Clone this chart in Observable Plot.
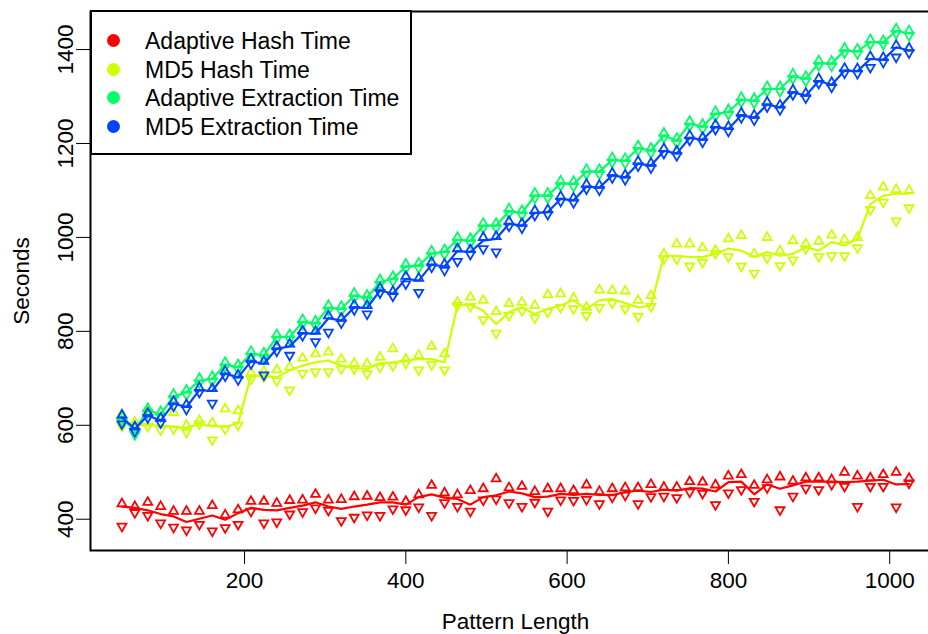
<!DOCTYPE html>
<html>
<head>
<meta charset="utf-8">
<script src="https://cdn.jsdelivr.net/npm/d3@7"></script>
<script src="https://cdn.jsdelivr.net/npm/@observablehq/plot@0.6"></script>
<style>
  html, body { margin: 0; padding: 0; background: #fff; overflow: hidden; }
  #wrap { position: relative; width: 928px; height: 634px; overflow: hidden; }
  #chart { width: 940px; }
  #chart svg { max-width: none !important; width: 940px !important; height: 634px !important; display: block; }
  #legend {
    position: absolute; left: 90px; top: 10px; width: 318px; height: 141px;
    border: 2px solid #000; background: #fff; box-sizing: content-box;
    font-family: "Liberation Sans", Arial, Helvetica, sans-serif; font-size: 23px; color: #000;
  }
  #legend .row { position: absolute; left: 0; height: 28px; line-height: 28px; white-space: nowrap; }
  #legend .sw { position: absolute; left: 15px; top: 7px; width: 13px; height: 13px; border-radius: 50%; }
  #legend .lb { position: absolute; left: 53px; top: 0; }
</style>
</head>
<body>
<div id="wrap"><div id="chart"></div><div id="legend"></div></div>
<script>
// Pattern lengths (x)
const patternLength = [48, 64, 80, 96, 112, 128, 144, 160, 176, 192, 208, 224, 240, 256, 272, 288, 304, 320, 336, 352, 368, 384, 400, 416, 432, 448, 464, 480, 496, 512, 528, 544, 560, 576, 592, 608, 624, 640, 656, 672, 688, 704, 720, 736, 752, 768, 784, 800, 816, 832, 848, 864, 880, 896, 912, 928, 944, 960, 976, 992, 1008, 1024];

const seriesNames = ["Adaptive Hash Time", "MD5 Hash Time", "Adaptive Extraction Time", "MD5 Extraction Time"];
const seriesColors = ["#FF0000", "#CCFF00", "#00FF66", "#0044FF"];

// Adaptive Hash Time: max (up triangle), min (down triangle), mean (line)
const adaptiveHashHi = [433,427,436,427,417,417,417,429,409,420, 438,438,434,440,441,453,441,442,448,449, 446,447,438,452,472,456,452,461,465,486, 467,470,459,465,465,461,473,459,465,467, 467,474,468,468,480,479,473,492,495,472, 484,490,481,488,488,484,500,492,488,495, 500,487];
const adaptiveHashLo = [385,414,408,392,383,377,389,375,382,389, 417,392,394,411,416,424,419,397,404,409, 408,422,420,426,408,435,427,417,441,443, 435,427,436,417,441,440,442,433,447,451, 433,448,449,446,458,455,431,456,463,438, 467,420,449,466,463,474,470,427,470,470, 426,477];
const adaptiveHashMean = [427,424,419,411,406,394,401,408,399,413, 424,420,419,424,429,436,427,422,427,431, 436,436,431,447,453,446,443,431,447,451, 459,455,447,448,454,452,454,452,451,458, 461,458,463,461,466,465,459,479,480,453, 474,465,472,480,480,480,479,480,482,484, 474,475];

// MD5 Hash Time
const md5HashHi = [612,607,630,615,627,600,610,605,635,631, 712,715,718,724,743,752,756,741,732, 731,745,763,741,749,768,752,862,873,866,842,859,862,855,878,880,871,851,888,887,886,866,876, 965,986,986,978,972,997,1004,965,1000,971,993,986,992,1005,995,1000,1089,1107,1102,1100];
const md5HashLo = [598,598,598,590,592,585,603,569,592,600, 698,703,695,675,711,714,714,720,720, 710,724,727,732,718,729,718,855,853,825,796,834,844,829,841,851,848,834,851,860,848,832,853, 954,954,939,947,966,959,939,924,956,940,952,976,959,961,961,978,1059,1075,1035,1063];
const md5HashMean = [610,601,600,600,596,595,602,598,597,604, 706,705,702,717,727,734,738,727,722, 720,732,734,738,741,741,734,855,857,844,815,841,851,837,848,855,866,848,866,869,860,851,855, 961,961,958,958,965,976,972,958,969,961,965,979,972,990,983,997,1071,1089,1093,1093];

// Adaptive Extraction Time
const adaptiveExtHi = [619,595,636,629,666,675,700,704,734,729, 757,754,793,793,825,822,855,853,881,877, 910,917,943,945,971,974,1000,998,1030,1030, 1061,1057,1094,1094,1120,1119,1145,1145,1170,1168, 1195,1190,1222,1211,1247,1241,1268,1272,1298,1296, 1321,1321,1348,1343,1376,1375,1403,1401,1421,1419, 1444,1440];
const adaptiveExtLo = [609,580,626,619,656,665,690,694,724,719, 747,744,783,783,815,812,845,843,871,867, 900,907,933,935,961,964,990,988,1020,1020, 1051,1047,1084,1084,1110,1109,1135,1135,1160,1158, 1185,1180,1212,1201,1237,1231,1258,1262,1288,1286, 1311,1311,1338,1333,1366,1365,1393,1391,1411,1411, 1434,1430];
const adaptiveExtMean = [614,590,631,624,661,670,695,699,729,724, 752,749,788,788,820,817,850,848,876,872, 905,912,938,940,966,969,995,993,1025,1025, 1056,1052,1089,1089,1115,1114,1140,1140,1165,1163, 1190,1185,1217,1206,1242,1236,1263,1267,1293,1291, 1316,1316,1343,1338,1371,1370,1398,1396,1416,1416, 1439,1435];

// MD5 Extraction Time
const md5ExtHi = [622,597,626,615,651,644,680,678,715,707, 741,736,768,773,801,800,833,828,856,855, 892,885,917,913,947,943,976,974,1000,1002, 1034,1030,1057,1059,1087,1084,1113,1111,1137,1133, 1162,1158,1189,1184,1217,1213,1240,1236,1265,1260, 1288,1282,1314,1307,1338,1330,1360,1359,1385,1383, 1409,1403];
const md5ExtLo = [603,587,616,605,641,634,670,647,705,697, 731,707,758,749,791,778,798,818,846,837, 882,875,901,883,937,930,949,964,976,969, 1024,1020,1047,1049,1077,1074,1103,1101,1127,1123, 1152,1148,1179,1174,1207,1203,1230,1226,1255,1250, 1278,1272,1304,1297,1328,1320,1350,1349,1362,1373, 1384,1393];
const md5ExtMean = [617,592,621,610,646,639,675,673,710,702, 736,731,763,768,796,795,828,823,851,850, 887,880,912,908,942,938,971,969,993,997, 1029,1025,1052,1054,1082,1079,1108,1106,1132,1128, 1157,1153,1184,1179,1212,1208,1235,1231,1260,1255, 1283,1277,1309,1302,1333,1325,1355,1354,1380,1378, 1405,1398];

const xTicks = [200, 400, 600, 800, 1000];
const yTicks = [400, 600, 800, 1000, 1200, 1400];

const seriesValues = [
  [adaptiveHashHi, adaptiveHashLo, adaptiveHashMean],
  [md5HashHi, md5HashLo, md5HashMean],
  [adaptiveExtHi, adaptiveExtLo, adaptiveExtMean],
  [md5ExtHi, md5ExtLo, md5ExtMean]
];

const tables = seriesValues.map(([hi, lo, mean], s) =>
  patternLength.map((x, i) => ({x, hi: hi[i], lo: lo[i], mean: mean[i], series: seriesNames[s]}))
);

const font = "'Liberation Sans', Arial, Helvetica, sans-serif";

const marks = [];
tables.forEach((t, s) => {
  const c = seriesColors[s];
  marks.push(Plot.dot(t, {x: "x", y: "hi", symbol: "triangle", r: 3.3, fill: "none", stroke: c, strokeWidth: 1.8}));
  marks.push(Plot.dot(t, {x: "x", y: "lo", symbol: "triangle", r: 3.3, rotate: 180, fill: "none", stroke: c, strokeWidth: 1.8}));
  marks.push(Plot.line(t, {x: "x", y: "mean", stroke: c, strokeWidth: 2.2}));
});

const chart = Plot.plot({
  width: 940,
  height: 634,
  marginLeft: 90,
  marginRight: 0,
  marginTop: 11,
  marginBottom: 84,
  style: {fontFamily: font, fontSize: "22.5px", color: "#000", background: "#fff", maxWidth: "none"},
  x: {domain: [9, 1063]},
  y: {domain: [333.4, 1481]},
  marks: [
    ...marks,
    Plot.frame({stroke: "#000", strokeWidth: 2}),
    Plot.axisX({ticks: xTicks, tickSize: 14, tickPadding: 8, tickFormat: d => String(d), fontSize: 22.5,
      label: "Pattern Length", labelAnchor: "center", labelArrow: "none", labelOffset: 78}),
    Plot.axisY({ticks: yTicks, tickSize: 14, tickPadding: 4, tickRotate: -90, tickFormat: d => String(d), fontSize: 22.5,
      label: "Seconds", labelAnchor: "center", labelArrow: "none", labelOffset: 77})
  ]
});
document.getElementById("chart").appendChild(chart);

const legend = document.getElementById("legend");
seriesNames.forEach((name, i) => {
  const row = document.createElement("div");
  row.className = "row";
  row.style.top = (15 + i * 28.5) + "px";
  const sw = document.createElement("span");
  sw.className = "sw";
  sw.style.background = seriesColors[i];
  const lb = document.createElement("span");
  lb.className = "lb";
  lb.textContent = name;
  row.appendChild(sw);
  row.appendChild(lb);
  legend.appendChild(row);
});
</script>
</body>
</html>
